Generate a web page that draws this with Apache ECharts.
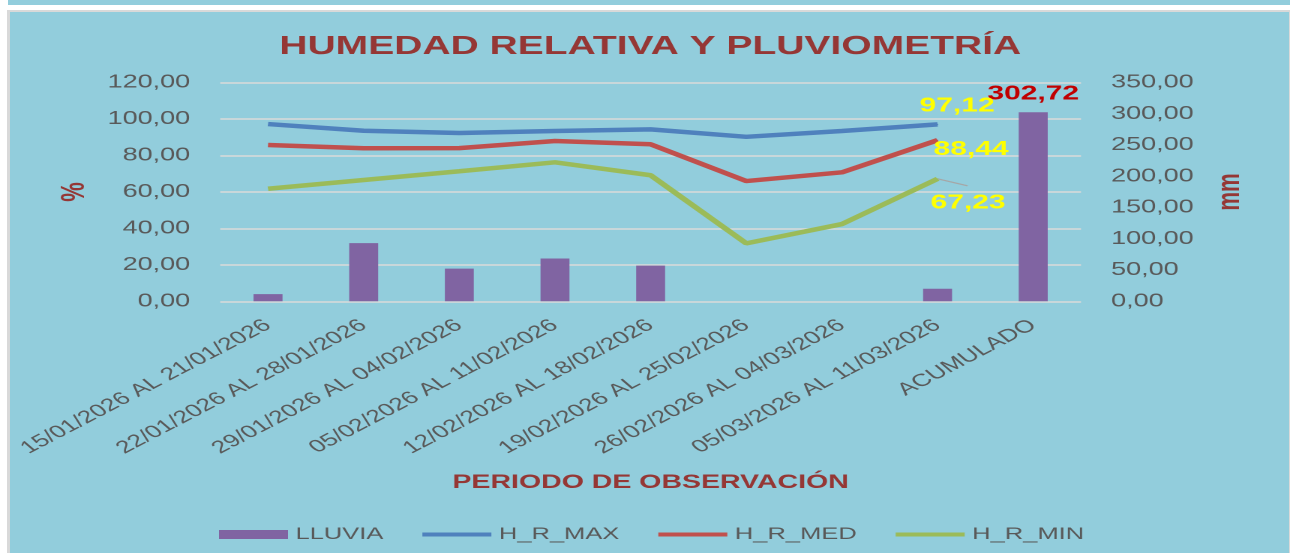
<!DOCTYPE html>
<html>
<head>
<meta charset="utf-8">
<script src="https://cdn.jsdelivr.net/npm/echarts@6/dist/echarts.min.js"></script>
<style>
html,body{margin:0;padding:0;background:#ffffff;width:1290px;height:553px;overflow:hidden;}
#strip{position:absolute;left:8px;top:0;width:1282px;height:5px;background:#92CDDC;}
#panel{position:absolute;left:7px;top:10px;width:1283px;height:543px;background:#92CDDC;border-left:3.5px solid #d9d9d9;border-top:2px solid #d9d9d9;border-right:1.5px solid #d9d9d9;box-sizing:border-box;}
#wrap{position:absolute;left:0;top:0;width:860px;height:553px;transform:scaleX(1.5);transform-origin:0 0;}
#chart{width:860px;height:553px;}
</style>
</head>
<body>
<div id="strip"></div>
<div id="panel"></div>
<div id="wrap"><div id="chart"></div></div>
<script>
// ---- data ----
const categories = [
  '15/01/2026 AL 21/01/2026',
  '22/01/2026 AL 28/01/2026',
  '29/01/2026 AL 04/02/2026',
  '05/02/2026 AL 11/02/2026',
  '12/02/2026 AL 18/02/2026',
  '19/02/2026 AL 25/02/2026',
  '26/02/2026 AL 04/03/2026',
  '05/03/2026 AL 11/03/2026',
  'ACUMULADO'
];
const lluvia = [11.4, 93.2, 52.3, 68.6, 57.1, 0, 0, 20.12, 302.72];
const hrMax = [97.3, 93.6, 92.4, 93.5, 94.4, 90.3, 93.5, 97.12, null];
const hrMed = [85.8, 84.0, 84.1, 88.0, 86.2, 66.0, 70.8, 88.44, null];
const hrMin = [61.8, 66.6, 71.4, 76.3, 69.2, 31.8, 42.4, 67.23, null];
const leftTicks = { min: 0, max: 120, interval: 20 };
const rightTicks = { min: 0, max: 350, interval: 50 };

// ---- chart ----
const FONT = '"Liberation Sans", Arial, sans-serif';
const DARKRED = '#953735';
const LINE_ICON = 'path://M0,0L46,0L46,4L0,4Z';
const fmt = v => Number(v).toFixed(2).replace('.', ',');

const chart = echarts.init(document.getElementById('chart'), null, { renderer: 'canvas', devicePixelRatio: 2 });

function lineSeries(name, values, color, layout) {
  const last = values.length - 2;
  return {
    name: name,
    type: 'line',
    yAxisIndex: 0,
    symbol: 'none',
    itemStyle: { color: color },
    lineStyle: { color: color, width: 4.5 },
    data: values.map((v, i) => i === last ? {
      value: v,
      symbol: 'circle',
      symbolSize: 1,
      label: {
        show: true, position: 'inside', formatter: p => fmt(p.value),
        color: '#FFFF00', fontWeight: 'bold', fontSize: 20, fontFamily: FONT
      }
    } : v),
    labelLayout: layout
  };
}

const option = {
  animation: false,
  backgroundColor: 'transparent',
  textStyle: { fontFamily: FONT },
  title: {
    text: 'HUMEDAD RELATIVA Y PLUVIOMETRÍA',
    left: 433.5, top: 34, textAlign: 'center', padding: 0,
    textStyle: { color: DARKRED, fontWeight: 'bold', fontSize: 26, fontFamily: FONT }
  },
  legend: {
    data: [
      { name: 'LLUVIA', icon: 'rect' },
      { name: 'H_R_MAX', icon: LINE_ICON },
      { name: 'H_R_MED', icon: LINE_ICON },
      { name: 'H_R_MIN', icon: LINE_ICON }
    ],
    left: 141, top: 521,
    itemWidth: 46, itemHeight: 9, itemGap: 26,
    symbolKeepAspect: true,
    textStyle: { color: '#595959', fontSize: 17, fontFamily: FONT }
  },
  grid: { left: 146.8, right: 139.3, top: 82.7, bottom: 251.7, containLabel: false },
  xAxis: {
    type: 'category',
    data: categories,
    axisLine: { show: false },
    axisTick: { show: false },
    axisLabel: { interval: 0, rotate: 38, margin: 22, color: '#595959', fontSize: 17.5, fontFamily: FONT },
    name: 'PERIODO DE OBSERVACIÓN',
    nameLocation: 'middle',
    nameGap: 172,
    nameTextStyle: { color: DARKRED, fontWeight: 'bold', fontSize: 19, fontFamily: FONT }
  },
  yAxis: [
    {
      type: 'value', position: 'left',
      min: leftTicks.min, max: leftTicks.max, interval: leftTicks.interval,
      axisLine: { show: false }, axisTick: { show: false },
      axisLabel: { formatter: fmt, color: '#595959', fontSize: 18, margin: 20, fontFamily: FONT },
      splitLine: { lineStyle: { color: '#D9D9D9', width: 1.5 } },
      name: '%', nameLocation: 'middle', nameGap: 84,
      nameTextStyle: { color: DARKRED, fontWeight: 'bold', fontSize: 22, fontFamily: FONT }
    },
    {
      type: 'value', position: 'right',
      min: rightTicks.min, max: rightTicks.max, interval: rightTicks.interval,
      axisLine: { show: false }, axisTick: { show: false },
      axisLabel: { formatter: fmt, color: '#595959', fontSize: 18, margin: 20, fontFamily: FONT },
      splitLine: { show: false },
      name: 'mm', nameLocation: 'middle', nameGap: 89,
      nameTextStyle: { color: DARKRED, fontWeight: 'bold', fontSize: 21, fontFamily: FONT }
    }
  ],
  series: [
    {
      name: 'LLUVIA',
      type: 'bar',
      yAxisIndex: 1,
      barWidth: 19.3,
      itemStyle: { color: '#8064A2' },
      data: lluvia.map((v, i) => i === lluvia.length - 1 ? {
        value: v,
        label: {
          show: true, position: 'top', distance: 8, formatter: p => fmt(p.value),
          color: '#C00000', fontWeight: 'bold', fontSize: 20, fontFamily: FONT
        }
      } : v)
    },
    lineSeries('H_R_MAX', hrMax, '#4F81BD', { dx: 13, dy: -18.3 }),
    lineSeries('H_R_MED', hrMed, '#C0504D', { dx: 22.3, dy: 9.5 }),
    lineSeries('H_R_MIN', hrMin, '#9BBB59', { dx: 20.3, dy: 24.4 })
  ]
};
chart.setOption(option);

// small grey leader line from the last H_R_MIN point toward its label
const lastIdx = hrMin.length - 2;
const p = chart.convertToPixel({ seriesIndex: 3 }, [lastIdx, hrMin[lastIdx]]);
chart.setOption({
  graphic: [{
    type: 'line', silent: true,
    shape: { x1: p[0], y1: p[1], x2: p[0] + 20, y2: p[1] + 7 },
    style: { stroke: '#A6A6A6', lineWidth: 1.2 }
  }]
});
</script>
</body>
</html>
